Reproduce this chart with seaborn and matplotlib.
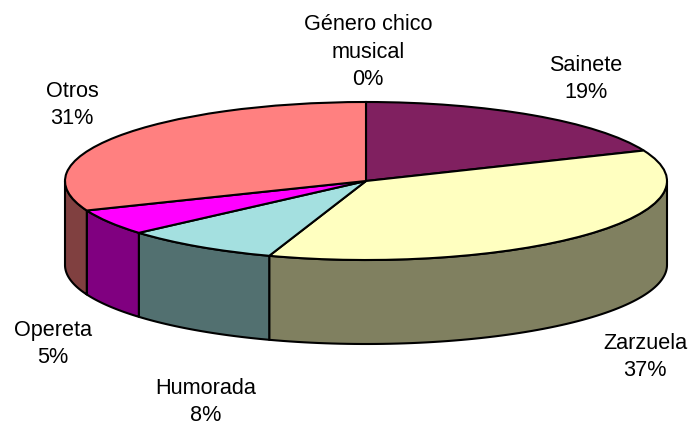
import numpy as np
import matplotlib
matplotlib.use("Agg")
import matplotlib.pyplot as plt
import seaborn as sns


# Data
categories = ["Género chico\nmusical", "Sainete", "Zarzuela", "Humorada", "Opereta", "Otros"]
values = [0, 18.7, 36.51, 8.4, 5.3, 31.09]
colors = ["#9999FF", "#802060", "#FFFFC0", "#A4E0E0", "#FF00FF", "#FF8080"]

# Label centres in image pixels
label_x = [368, 586, 645, 206, 53, 72]
label_y = [52, 79, 357, 402, 344, 105]

W, H = 690, 425
CX, CY = 366, 181
RX, RY = 301, 79
DEPTH = 84 / RY

sns.set_theme(style="white")
plt.rcParams["font.family"] = ["Liberation Sans", "DejaVu Sans"]

palette = sns.color_palette(colors)

fig = plt.figure(figsize=(W / 100, H / 100), dpi=100)
ax = fig.add_axes([0, 0, 1, 1])


# Side wall first, only the front half of the pie has one
fractions = np.array(values) / sum(values)
edges = np.concatenate([[0], np.cumsum(fractions)]) * 2 * np.pi

for i in range(len(values)):
    start = max(edges[i], np.pi / 2)
    end = min(edges[i + 1], 3 * np.pi / 2)
    if end <= start:
        continue
    t = np.linspace(start, end, 80)
    x = np.sin(t)
    y = np.cos(t)
    side = tuple(c * 0.5 for c in palette[i])
    ax.fill(
        np.concatenate([x, x[::-1]]),
        np.concatenate([y, y[::-1] - DEPTH]),
        facecolor=side,
        edgecolor="black",
        linewidth=1.5,
        joinstyle="round"
    )

# Top face
ax.pie(
    values,
    colors=palette,
    startangle=90,
    counterclock=False,
    radius=1,
    wedgeprops={"edgecolor": "black", "linewidth": 1.5}
)

# Squash the circle into the tilted ellipse
ax.set_aspect("auto")
ax.set_xlim(-CX / RX, (W - CX) / RX)
ax.set_ylim((CY - H) / RY, CY / RY)


for name, value, px, py in zip(categories, values, label_x, label_y):
    ax.text(
        (px - CX) / RX,
        (CY - py) / RY,
        f"{name}\n{value:.0f}%",
        ha="center",
        va="center",
        fontsize=15.6,
        color="black",
        linespacing=1.42
    )

fig.savefig("out.png", dpi=100)
